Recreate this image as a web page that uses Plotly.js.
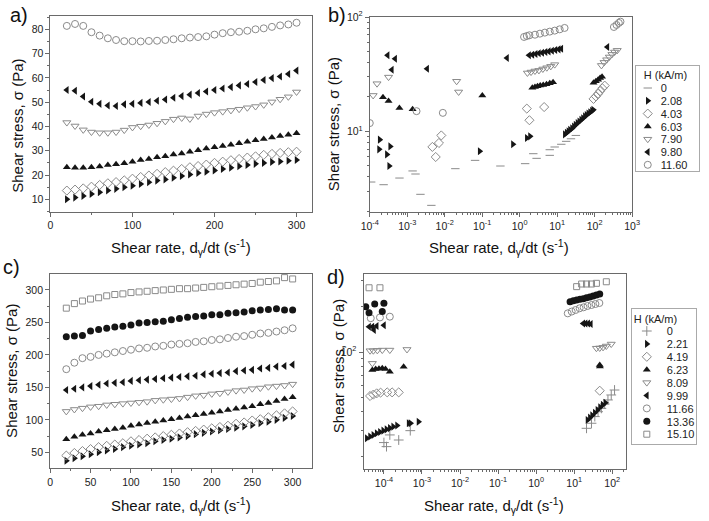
<!DOCTYPE html>
<html>
<head>
<meta charset="utf-8">
<script src="https://cdn.plot.ly/plotly-3.0.1.min.js"></script>
<style>
  html, body { margin: 0; padding: 0; background: #fff; }
  #fig { width: 709px; height: 521px; }
</style>
</head>
<body>
<div id="fig"></div>
<script>
// ---------- (a) linear sweep, H in kA/m ----------
const rateA = [20, 30, 40, 50, 60, 70, 80, 90, 100, 110, 120, 130, 140, 150, 160, 170, 180, 190, 200, 210, 220, 230, 240, 250, 260, 270, 280, 290, 300];
const a_2_08 = [10.0, 10.7, 11.4, 12.2, 12.9, 13.6, 14.3, 15.0, 15.6, 16.3, 17.0, 17.7, 18.2, 18.9, 19.6, 20.2, 20.8, 21.4, 21.9, 22.5, 23.0, 23.6, 24.1, 24.6, 25.0, 25.4, 25.6, 25.9, 26.2];
const a_4_03 = [13.6, 14.0, 14.5, 15.2, 15.9, 16.6, 17.1, 17.8, 18.5, 19.2, 19.8, 20.5, 21.2, 21.8, 22.5, 23.2, 23.7, 24.3, 25.0, 25.5, 26.1, 26.6, 27.2, 27.7, 28.3, 28.7, 29.1, 29.4, 29.6];
const a_6_03 = [23.2, 23.0, 23.0, 23.2, 23.5, 24.1, 24.4, 24.8, 25.5, 26.2, 26.6, 27.3, 27.7, 28.4, 28.9, 29.6, 30.2, 30.9, 31.4, 32.0, 32.5, 33.1, 33.7, 34.3, 34.8, 35.5, 36.1, 36.6, 37.2];
const a_7_90 = [41.6, 40.2, 38.6, 37.7, 37.4, 37.4, 37.7, 38.5, 39.6, 40.1, 40.6, 41.3, 42.1, 43.0, 43.5, 43.1, 44.3, 45.1, 45.7, 46.1, 46.6, 47.1, 47.7, 48.2, 48.9, 50.1, 51.2, 52.2, 54.2];
const a_9_80 = [55.0, 54.7, 52.3, 50.2, 49.3, 48.6, 48.4, 49.1, 49.3, 49.7, 50.1, 50.6, 51.1, 51.8, 52.5, 53.1, 53.8, 54.4, 55.0, 55.6, 56.2, 56.9, 57.5, 58.3, 59.1, 59.9, 60.6, 61.6, 63.0];
const a_11_60 = [81.4, 82.2, 81.4, 78.8, 77.4, 76.3, 75.6, 75.1, 75.1, 75.0, 75.2, 75.3, 75.6, 75.9, 76.3, 76.6, 76.8, 77.1, 77.8, 78.4, 78.8, 79.0, 79.4, 80.0, 80.4, 81.0, 81.6, 82.0, 82.7];

// ---------- (b) log sweep, same field strengths ----------
const b_0_x = [1.09e-4, 2.34e-4, 6.2e-4, 1.39e-3, 1.66e-3, 2.25e-3, 4.4e-3, 0.0192, 0.0646, 0.306, 1.40, 2.31, 2.83, 6.35, 6.35, 8.6, 12.9, 17.4, 23.4, 31.6];
const b_0_y = [3.6, 3.41, 3.9, 4.5, 4.23, 2.81, 2.25, 4.71, 5.57, 4.97, 5.21, 6.37, 5.8, 6.16, 6.9, 7.29, 7.7, 8.17, 8.6, 9.2];
const b_2_08_x = [1.84e-4, 1.77e-4, 2.86e-4, 3.5e-4, 3.3e-4, 0.0857, 0.66, 1.55, 1.89, 16, 18, 20, 22, 25, 28, 31, 35, 39, 44, 49, 55, 61, 68, 76, 85, 92];
const b_2_08_y = [8.45, 6.95, 6.28, 7.38, 4.97, 6.68, 7.7, 8.74, 9.03, 9.4, 9.7, 10.0, 10.3, 10.6, 11.0, 11.4, 11.8, 12.2, 12.6, 13.0, 13.5, 13.9, 14.3, 14.7, 15.1, 15.4];
const b_4_03_x = [4.68e-3, 7.0e-3, 8.1e-3, 5.75e-3, 1.55, 1.82, 4.5, 93.5, 108, 124, 140, 161, 186];
const b_4_03_y = [7.3, 7.9, 9.2, 5.96, 15.8, 12.5, 16.3, 19.2, 20.2, 21.3, 22.5, 23.8, 25.1];
const b_6_03_x = [2.25e-4, 3.17e-4, 6.18e-4, 1.39e-3, 0.1007, 2.18, 2.56, 3.0, 3.54, 4.25, 5.2, 6.36, 7.78, 93.5, 108, 124, 140, 158];
const b_6_03_y = [19.9, 18.4, 16.0, 15.6, 20.6, 24.1, 24.4, 24.8, 25.1, 25.4, 25.8, 26.3, 26.8, 26.6, 27.4, 28.3, 29.3, 30.0];
const b_7_90_x = [1.56e-4, 1.23e-4, 3.17e-4, 0.0208, 0.0235, 1.61, 2.01, 2.56, 3.26, 4.16, 5.3, 6.76, 8.61, 152, 179, 210, 247, 290, 341, 401];
const b_7_90_y = [26.1, 20.6, 29.8, 27.4, 22.1, 32.4, 33.0, 33.7, 34.1, 35.1, 36.0, 37.0, 38.3, 37.7, 40.1, 42.3, 44.7, 47.1, 49.4, 51.1];
const b_9_80_x = [2.99e-4, 4.75e-4, 3.88e-4, 3.39e-3, 0.459, 1.78, 2.18, 2.67, 3.26, 3.99, 4.89, 5.98, 7.32, 8.97, 11.0, 12.9, 219];
const b_9_80_y = [46.2, 43.2, 34.6, 35.3, 43.8, 46.2, 46.8, 47.4, 48.1, 48.7, 49.4, 50.0, 50.7, 51.4, 52.1, 52.8, 54.7];
const b_11_60_x = [1.0e-4, 1.77e-3, 8.9e-3, 1.31, 1.55, 1.82, 2.56, 3.47, 4.7, 6.36, 8.61, 11.7, 15.8, 327, 384, 443, 490];
const b_11_60_y = [11.8, 15.0, 14.5, 66.9, 68.2, 69.2, 70.0, 71.5, 73.0, 74.5, 76.0, 78.0, 80.2, 81.8, 85.2, 88.7, 91.1];

// ---------- (c) linear sweep, second sample ----------
const rateC = [20, 30, 40, 50, 60, 70, 80, 90, 100, 110, 120, 130, 140, 150, 160, 170, 180, 190, 200, 210, 220, 230, 240, 250, 260, 270, 280, 290, 300];
const c_2_21 = [37, 41, 44, 47, 50, 53, 55, 58, 60, 62, 64, 67, 69, 71, 73, 75, 78, 80, 82, 84, 86, 88, 90, 92, 95, 97, 100, 103, 106];
const c_4_19 = [45, 49, 52, 55, 58, 60, 62, 64, 67, 69, 71, 73, 75, 77, 79, 81, 83, 85, 87, 89, 91, 94, 96, 99, 101, 104, 107, 110, 113];
const c_6_23 = [70, 74, 77, 79, 82, 84, 86, 88, 91, 93, 95, 97, 99, 101, 103, 105, 107, 109, 111, 113, 115, 117, 119, 121, 124, 126, 129, 132, 135];
const c_8_09 = [113, 116, 118, 120, 121, 123, 124, 125, 126, 127, 128, 130, 131, 132, 133, 135, 137, 138, 140, 141, 143, 145, 146, 148, 149, 151, 152, 153, 155];
const c_9_99 = [146, 148, 150, 152, 154, 156, 157, 158, 160, 161, 162, 163, 164, 165, 166, 167, 168, 170, 171, 172, 173, 175, 176, 177, 179, 180, 182, 183, 185];
const c_11_66 = [178, 188, 195, 197, 200, 202, 204, 206, 208, 210, 211, 213, 214, 216, 217, 218, 220, 221, 223, 224, 226, 228, 229, 231, 233, 234, 236, 238, 241];
const c_13_36 = [228, 229, 230, 237, 239, 241, 243, 244, 246, 249, 250, 251, 252, 254, 256, 258, 259, 260, 262, 262, 264, 265, 266, 268, 269, 270, 271, 269, 269];
const c_15_10 = [272, 279, 283, 286, 288, 291, 293, 294, 296, 297, 298, 299, 300, 301, 302, 302, 303, 304, 305, 306, 307, 308, 309, 310, 312, 313, 314, 319, 317];

// ---------- (d) log sweep, second sample ----------
const d_0_x = [1.0e-4, 1.43e-4, 1.17e-4, 2.45e-4, 4.93e-4, 21.1, 28.5, 34.8, 42.4, 51.8, 63.2, 77.1, 94.1, 115];
const d_0_y = [24.9, 28.0, 23.4, 25.9, 29.9, 31.0, 33.5, 37.1, 40.0, 42.1, 45.0, 47.9, 51.7, 55.8];
const d_2_21_x = [3.55e-5, 4.33e-5, 5.28e-5, 6.45e-5, 7.87e-5, 9.6e-5, 1.17e-4, 1.43e-4, 1.75e-4, 2.22e-4, 4.46e-4, 5.0e-4, 8.11e-4, 22.4, 25.8, 29.6, 34.8, 40.8, 47.8, 56.1, 65.8];
const d_2_21_y = [26.6, 27.3, 28.0, 28.7, 29.3, 29.9, 30.5, 31.1, 31.8, 32.4, 33.5, 33.5, 34.3, 35.2, 36.5, 37.8, 39.4, 41.1, 42.8, 44.4, 45.9];
const d_4_19_x = [4.33e-5, 5.28e-5, 6.45e-5, 8.19e-5, 1.22e-4, 1.64e-4, 2.45e-4, 46.9];
const d_4_19_y = [50.9, 52.0, 53.0, 53.6, 53.8, 53.8, 53.8, 55.2];
const d_6_23_x = [4.97e-5, 6.08e-5, 7.41e-5, 9.05e-5, 1.1e-4, 1.43e-4, 3.3e-4, 46.9, 47.5];
const d_6_23_y = [75.9, 77.0, 77.4, 77.8, 77.0, 73.9, 79.8, 81.9, 80.0];
const d_8_09_x = [4.33e-5, 5.28e-5, 6.71e-5, 9.05e-5, 1.43e-4, 4.04e-4, 4.97e-5, 38.4, 46.9, 57.3, 69.9, 94];
const d_8_09_y = [102, 102, 102.6, 103, 103, 104, 84, 106, 106.4, 107.4, 109.6, 113];
const d_9_99_x = [4.07e-5, 4.97e-5, 5.5e-5, 6.45e-5, 1.0e-4, 17.3, 19.9, 23.3, 27.4];
const d_9_99_y = [147.5, 147.5, 140.2, 149, 150.6, 155, 155, 155, 153.8];
const d_11_66_x = [4.51e-5, 7.87e-5, 1.43e-4, 6.78, 8.61, 10.9, 13.9, 17.7, 22.4, 28.5, 36.2, 45.9];
const d_11_66_y = [168, 170, 172, 181, 186, 190.6, 195.6, 198.6, 202.7, 205.7, 208.9, 212.1];
const d_13_36_x = [3.34e-5, 5.73e-5, 1.0e-4, 4.07e-5, 9.05e-5, 7.8, 9.5, 11.6, 14.2, 17.3, 21.1, 25.8, 31.5, 38.4, 46.9];
const d_13_36_y = [200, 209, 211, 183, 186, 216.6, 219.9, 222.2, 224.5, 226.8, 230.3, 232.6, 236.2, 239.9, 243.6];
const d_15_10_x = [4.07e-5, 7.87e-5, 11.6, 15.7, 21.1, 28.5, 38.4, 69.9];
const d_15_10_y = [268, 268, 272.7, 284, 284, 284, 287, 294];

// ---------- tick labels ----------
const bTickVals = [1e-4, 1e-3, 1e-2, 1e-1, 1, 10, 100, 1000];
const bTickText = ['10<sup>-4</sup>', '10<sup>-3</sup>', '10<sup>-2</sup>', '10<sup>-1</sup>', '10<sup>0</sup>', '10<sup>1</sup>', '10<sup>2</sup>', '10<sup>3</sup>'];
const dTickVals = [1e-4, 1e-3, 1e-2, 1e-1, 1, 10, 100];
const dTickText = ['10<sup>-4</sup>', '10<sup>-3</sup>', '10<sup>-2</sup>', '10<sup>-1</sup>', '10<sup>0</sup>', '10<sup>1</sup>', '10<sup>2</sup>'];
const legendTitle = 'H (kA/m)';

// ---------- styling helpers ----------
const FONT = 'Liberation Sans, Arial, Helvetica, sans-serif';
const BLACK = '#151515';
const GREY = '#8a8a8a';
const AXIS = '#6a6a6a';

function mk(symbol, filled, size) {
  return filled
    ? {symbol: symbol, size: size, color: BLACK, line: {width: 0}}
    : {symbol: symbol, size: size, color: GREY, line: {width: 1, color: GREY}};
}

function tr(x, y, name, marker, xa, ya, legend, show) {
  return {
    type: 'scatter', mode: 'markers', x: x, y: y, name: name,
    marker: marker, xaxis: xa, yaxis: ya, legend: legend || 'legend',
    showlegend: !!show, cliponaxis: true, hoverinfo: 'skip'
  };
}

// minor tick positions for the log axes: 2..9 in every decade
function logMinor(lo, hi) {
  const out = [];
  for (let e = lo; e <= hi; e++) {
    for (let m = 2; m <= 9; m++) out.push(m * Math.pow(10, e));
  }
  return out;
}

const data = [
  // (a)
  tr(rateA, a_2_08, '2.08', mk('triangle-right', true, 7), 'x', 'y'),
  tr(rateA, a_4_03, '4.03', mk('diamond-open', false, 7), 'x', 'y'),
  tr(rateA, a_6_03, '6.03', mk('triangle-up', true, 7), 'x', 'y'),
  tr(rateA, a_7_90, '7.90', mk('triangle-down-open', false, 7), 'x', 'y'),
  tr(rateA, a_9_80, '9.80', mk('triangle-left', true, 7), 'x', 'y'),
  tr(rateA, a_11_60, '11.60', mk('circle-open', false, 7), 'x', 'y'),
  // (b)
  tr(b_0_x, b_0_y, '0', mk('line-ew-open', false, 6), 'x2', 'y2', 'legend', true),
  tr(b_2_08_x, b_2_08_y, '2.08', mk('triangle-right', true, 7), 'x2', 'y2', 'legend', true),
  tr(b_4_03_x, b_4_03_y, '4.03', mk('diamond-open', false, 7), 'x2', 'y2', 'legend', true),
  tr(b_6_03_x, b_6_03_y, '6.03', mk('triangle-up', true, 7), 'x2', 'y2', 'legend', true),
  tr(b_7_90_x, b_7_90_y, '7.90', mk('triangle-down-open', false, 7), 'x2', 'y2', 'legend', true),
  tr(b_9_80_x, b_9_80_y, '9.80', mk('triangle-left', true, 7), 'x2', 'y2', 'legend', true),
  tr(b_11_60_x, b_11_60_y, '11.60', mk('circle-open', false, 7), 'x2', 'y2', 'legend', true),
  // (c)
  tr(rateC, c_2_21, '2.21', mk('triangle-right', true, 7), 'x3', 'y3'),
  tr(rateC, c_4_19, '4.19', mk('diamond-open', false, 7), 'x3', 'y3'),
  tr(rateC, c_6_23, '6.23', mk('triangle-up', true, 7), 'x3', 'y3'),
  tr(rateC, c_8_09, '8.09', mk('triangle-down-open', false, 7), 'x3', 'y3'),
  tr(rateC, c_9_99, '9.99', mk('triangle-left', true, 7), 'x3', 'y3'),
  tr(rateC, c_11_66, '11.66', mk('circle-open', false, 7), 'x3', 'y3'),
  tr(rateC, c_13_36, '13.36', mk('circle', true, 7), 'x3', 'y3'),
  tr(rateC, c_15_10, '15.10', mk('square-open', false, 6), 'x3', 'y3'),
  // (d)
  tr(d_0_x, d_0_y, '0', mk('cross-thin-open', false, 7), 'x4', 'y4', 'legend2', true),
  tr(d_2_21_x, d_2_21_y, '2.21', mk('triangle-right', true, 7), 'x4', 'y4', 'legend2', true),
  tr(d_4_19_x, d_4_19_y, '4.19', mk('diamond-open', false, 7), 'x4', 'y4', 'legend2', true),
  tr(d_6_23_x, d_6_23_y, '6.23', mk('triangle-up', true, 7), 'x4', 'y4', 'legend2', true),
  tr(d_8_09_x, d_8_09_y, '8.09', mk('triangle-down-open', false, 7), 'x4', 'y4', 'legend2', true),
  tr(d_9_99_x, d_9_99_y, '9.99', mk('triangle-left', true, 7), 'x4', 'y4', 'legend2', true),
  tr(d_11_66_x, d_11_66_y, '11.66', mk('circle-open', false, 7), 'x4', 'y4', 'legend2', true),
  tr(d_13_36_x, d_13_36_y, '13.36', mk('circle', true, 7), 'x4', 'y4', 'legend2', true),
  tr(d_15_10_x, d_15_10_y, '15.10', mk('square-open', false, 6), 'x4', 'y4', 'legend2', true)
];

const W = 709, H = 521;
const px = v => v / W;
const py = v => 1 - v / H;

function axisBase(extra) {
  return Object.assign({
    showline: true, linecolor: AXIS, linewidth: 1, mirror: true,
    ticks: 'outside', ticklen: 4, tickwidth: 1, tickcolor: AXIS,
    showgrid: false, zeroline: false, fixedrange: true,
    tickfont: {family: FONT, size: 10.5, color: '#222'}
  }, extra);
}

const minorLin = d => ({dtick: d, ticks: 'outside', ticklen: 2, tickcolor: AXIS, showgrid: false});
const minorLog = v => ({tickmode: 'array', tickvals: v, ticks: 'outside', ticklen: 2, tickcolor: AXIS, showgrid: false});

function label(text, x, y, size, angle) {
  return {text: text, x: px(x), y: py(y), xref: 'paper', yref: 'paper',
    xanchor: 'center', yanchor: 'middle', showarrow: false, textangle: angle || 0,
    font: {family: FONT, size: size, color: '#111'}};
}

const xTitle = 'Shear rate, d<sub>γ</sub>/dt (s<sup>-1</sup>)';
const yTitle = 'Shear stress, σ (Pa)';

const legendStyle = (x, y) => ({
  x: px(x), y: py(y), xanchor: 'left', yanchor: 'top',
  bgcolor: '#fff', bordercolor: '#aaa', borderwidth: 1,
  font: {family: FONT, size: 11, color: '#222'},
  title: {text: legendTitle, font: {family: FONT, size: 11, color: '#222'}},
  itemwidth: 30, tracegroupgap: 0
});

const layout = {
  width: W, height: H,
  margin: {l: 0, r: 0, t: 0, b: 0},
  paper_bgcolor: '#fff', plot_bgcolor: '#fff',
  font: {family: FONT, color: '#222'},
  xaxis: axisBase({domain: [px(51), px(315.7)], range: [0, 319], dtick: 100, tick0: 0,
    minor: minorLin(50), anchor: 'y'}),
  yaxis: axisBase({domain: [py(211.7), py(15.7)], range: [4.9, 85.6], dtick: 10, tick0: 0,
    minor: minorLin(5), anchor: 'x'}),
  xaxis2: axisBase({domain: [px(374), px(639.3)], type: 'log', range: [-4, 3],
    tickmode: 'array', tickvals: bTickVals, ticktext: bTickText, anchor: 'y2',
    minor: minorLog(logMinor(-4, 2))}),
  yaxis2: axisBase({domain: [py(212), py(17)], type: 'log', range: [0.294, 2.0],
    tickmode: 'array', tickvals: [10, 100], ticktext: ['10<sup>1</sup>', '10<sup>2</sup>'], anchor: 'x2',
    minor: minorLog(logMinor(0, 1))}),
  xaxis3: axisBase({domain: [px(50.7), px(316)], range: [0, 324.5], dtick: 50, tick0: 0,
    minor: minorLin(25), anchor: 'y3'}),
  yaxis3: axisBase({domain: [py(468.3), py(274)], range: [25.4, 324.6], dtick: 50, tick0: 0,
    minor: minorLin(25), anchor: 'x3'}),
  xaxis4: axisBase({domain: [px(367.7), px(632.7)], type: 'log', range: [-4.535, 2.35],
    tickmode: 'array', tickvals: dTickVals, ticktext: dTickText, anchor: 'y4',
    minor: minorLog(logMinor(-5, 2))}),
  yaxis4: axisBase({domain: [py(469), py(274)], type: 'log', range: [1.22, 2.52],
    tickmode: 'array', tickvals: [100], ticktext: ['10<sup>2</sup>'], anchor: 'x4',
    minor: minorLog(logMinor(1, 2))}),
  legend: legendStyle(642, 65),
  legend2: legendStyle(638, 308),
  annotations: [
    label('a)', 19, 15, 20), label('b)', 341, 15, 20),
    label('c)', 12, 267, 20), label('d)', 340, 277, 20),
    label(yTitle, 17, 126, 15, -90), label(xTitle, 183, 247, 15),
    label(yTitle, 338, 124, 15, -90), label(xTitle, 505, 247, 15),
    label(yTitle, 11, 371, 15, -90), label(xTitle, 183, 505, 15),
    label(yTitle, 342, 366, 15, -90), label(xTitle, 500, 505, 15)
  ]
};

// Tighten the legend rows: the stock legend keeps at least 19 px per entry,
// these boxes use ~13 px rows with the symbol close to its label.
function tightenLegend(cls, o) {
  const root = document.querySelector('#fig g.' + cls);
  if (!root) return;
  const title = root.querySelector('text.legendtitletext');
  if (title) {
    title.setAttribute('x', o.titleX);
    title.setAttribute('y', o.titleY);
    title.querySelectorAll('tspan').forEach(s => { if (s.hasAttribute('x')) s.setAttribute('x', o.titleX); });
  }
  root.querySelectorAll('g.traces').forEach((g, i) => {
    g.setAttribute('transform', 'translate(' + (o.symX - 20) + ',' + (o.firstY + i * o.rowH) + ')');
    const t = g.querySelector('text.legendtext');
    if (t) {
      t.setAttribute('x', o.textX - (o.symX - 20));
      t.querySelectorAll('tspan').forEach(s => { if (s.hasAttribute('x')) s.setAttribute('x', o.textX - (o.symX - 20)); });
    }
  });
  root.querySelectorAll('rect.bg').forEach(r => {
    r.setAttribute('width', o.w);
    r.setAttribute('height', o.h);
  });
}

Plotly.newPlot('fig', data, layout, {staticPlot: true, displayModeBar: false}).then(() => {
  tightenLegend('legend', {titleX: 9, titleY: 14, symX: 13, textX: 26, firstY: 23, rowH: 12.8, w: 64, h: 106});
  tightenLegend('legend2', {titleX: 8, titleY: 15, symX: 16, textX: 29, firstY: 23, rowH: 12.9, w: 65, h: 136});
});
</script>
</body>
</html>
